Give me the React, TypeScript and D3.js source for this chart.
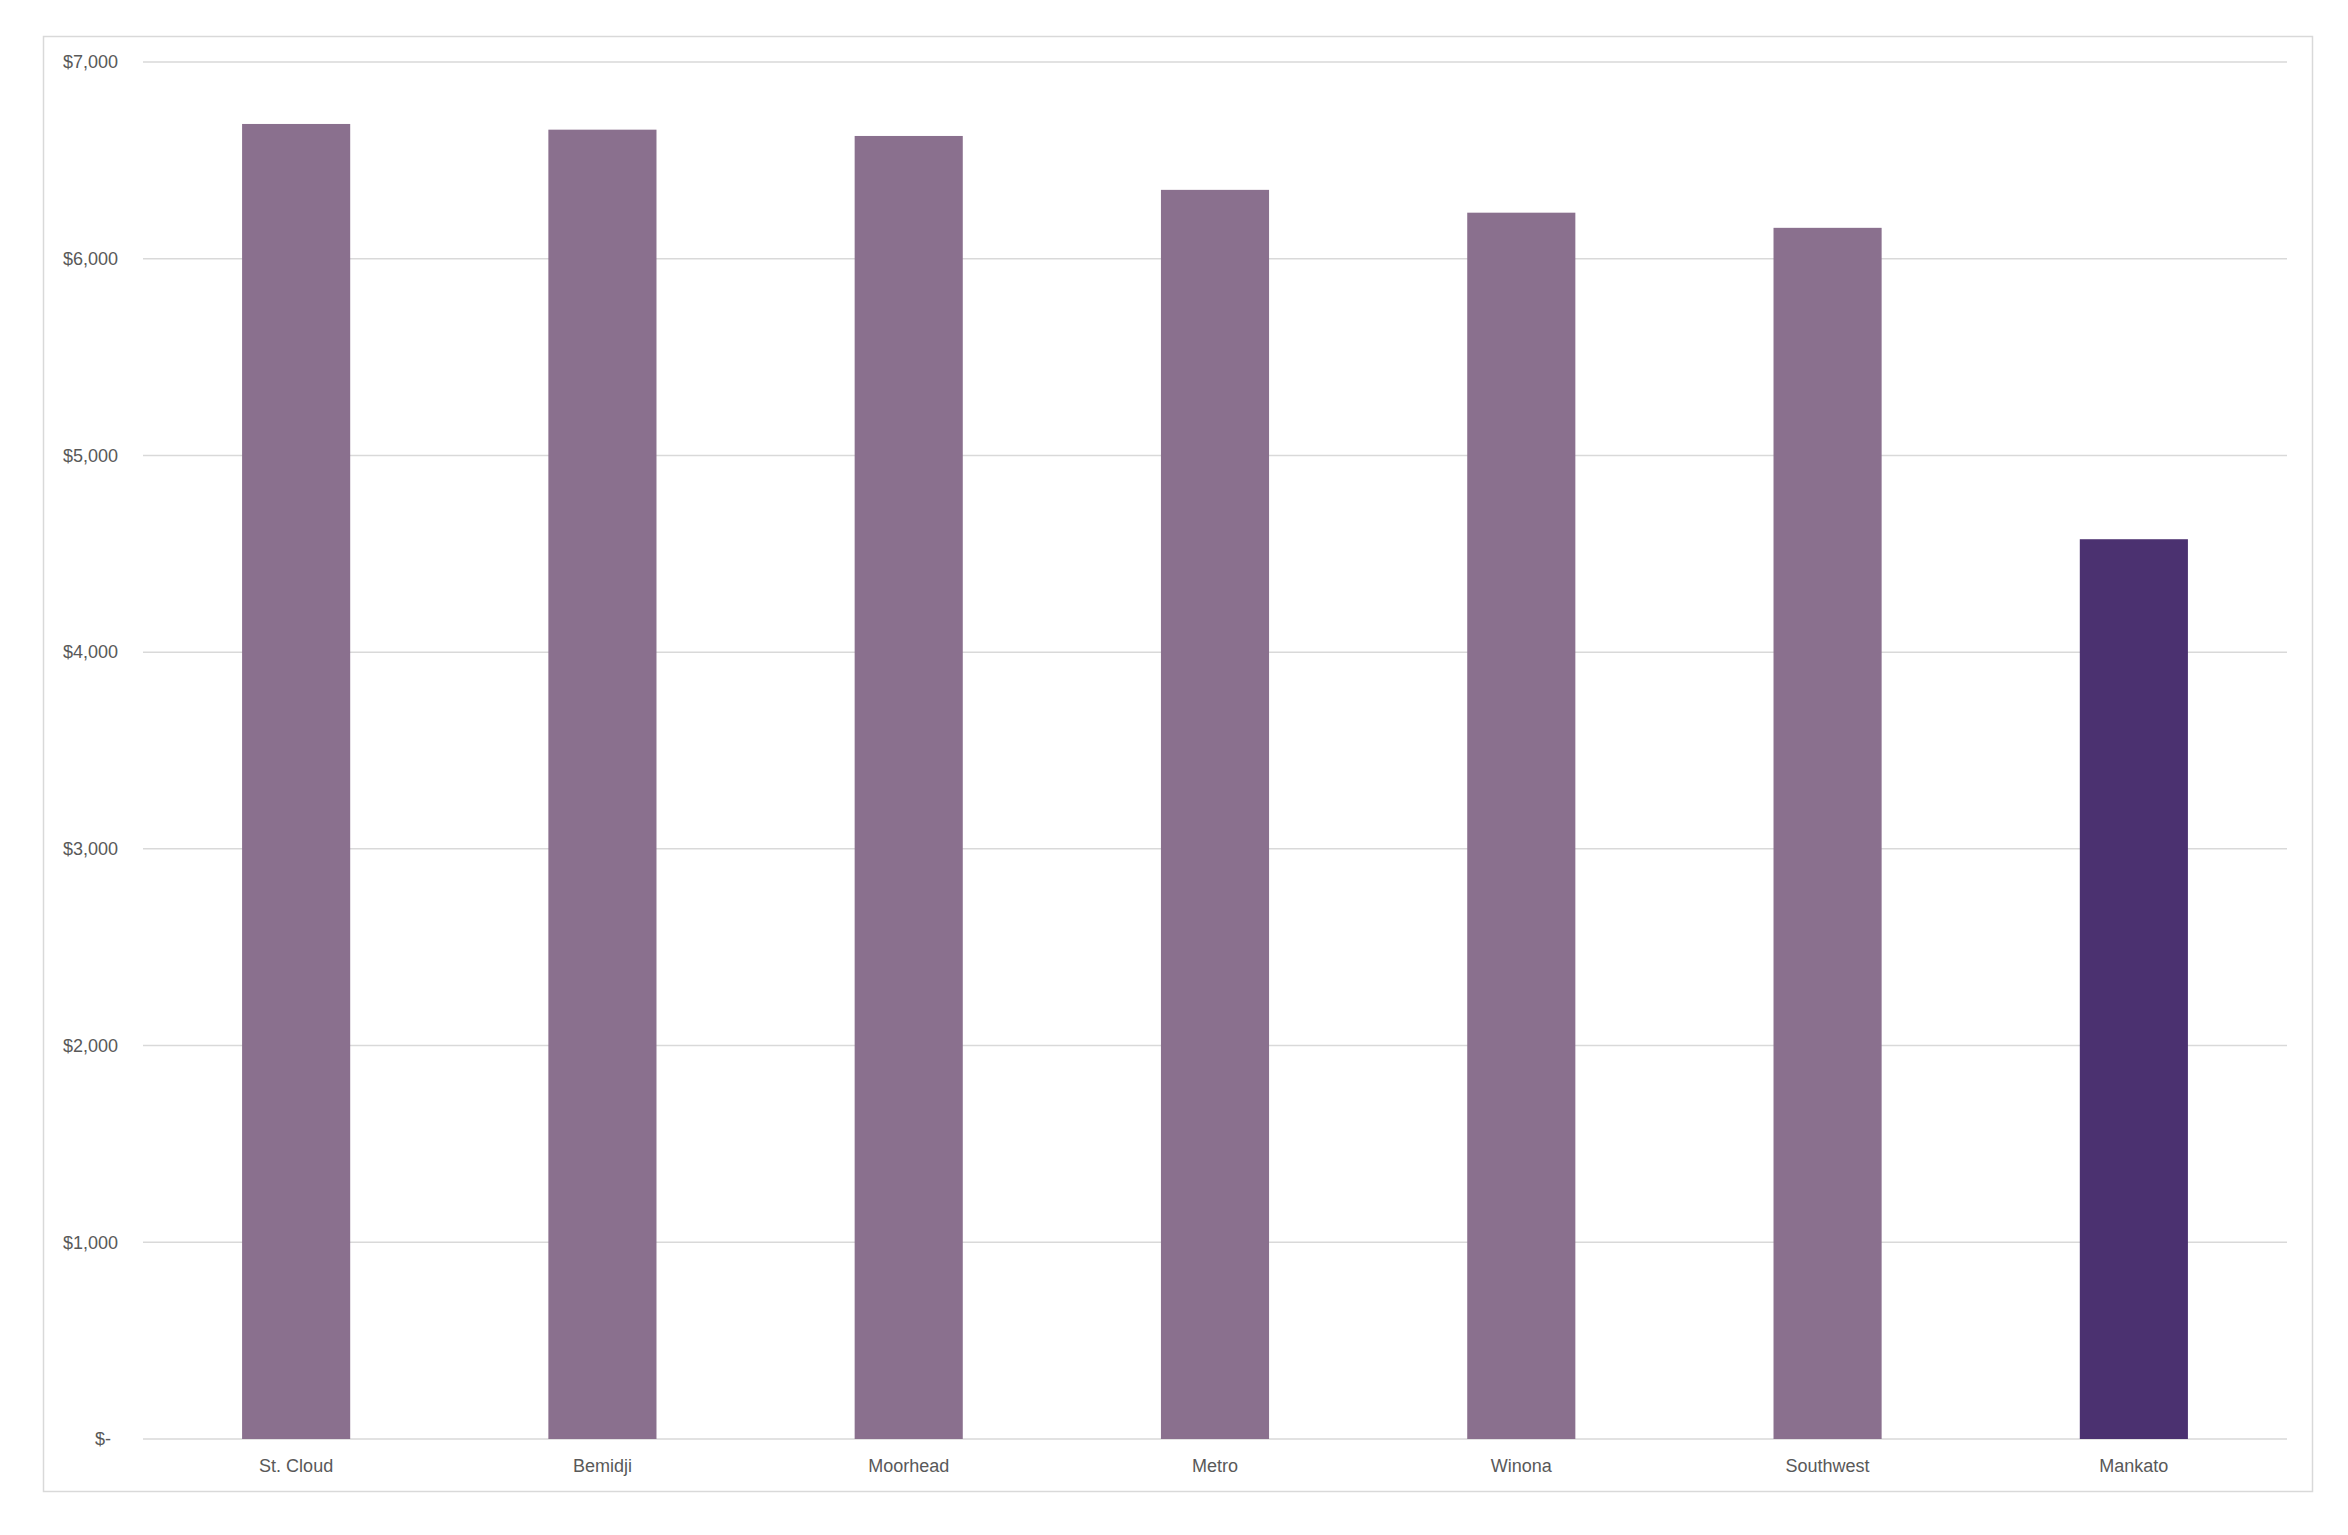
import React from "react";
import * as d3 from "d3";

const categories = ["St. Cloud", "Bemidji", "Moorhead", "Metro", "Winona", "Southwest", "Mankato"];
const values = [6685, 6656, 6624, 6350, 6234, 6157, 4574];
const highlight = ["Mankato"];
const yTicks = [0, 1000, 2000, 3000, 4000, 5000, 6000, 7000];

const W = 2348;
const H = 1535;
const plot = { left: 143, right: 2287, top: 62, bottom: 1439 };

const fmt = (v: number) => (v === 0 ? "$-" : "$" + d3.format(",")(v));

export default function App() {
  const x = d3
    .scaleBand<string>()
    .domain(categories)
    .range([plot.left, plot.right])
    .paddingInner(0.647)
    .paddingOuter(0.3235);
  const y = d3.scaleLinear().domain([0, 7000]).range([plot.bottom, plot.top]);
  const font = "'Liberation Sans', Arial, sans-serif";

  return (
    <svg
      width={W}
      height={H}
      style={{ position: "absolute", left: 0, top: 0, background: "#fff" }}
    >
      <rect x={43.5} y={36.5} width={2269} height={1455} fill="#fff" stroke="#d9d9d9" strokeWidth={1.5} />
      {yTicks.map((t) => (
        <g key={t}>
          <line x1={plot.left} x2={plot.right} y1={y(t)} y2={y(t)} stroke="#d9d9d9" strokeWidth={1.5} />
          <text
            x={t === 0 ? 111 : 118}
            y={y(t)}
            dy="0.35em"
            textAnchor="end"
            fontFamily={font}
            fontSize={18}
            fill="#595959"
          >
            {fmt(t)}
          </text>
        </g>
      ))}
      {categories.map((c, i) => (
        <g key={c}>
          <rect
            x={x(c)}
            y={y(values[i])}
            width={x.bandwidth()}
            height={y(0) - y(values[i])}
            fill={highlight.includes(c) ? "#4b3170" : "#8a708e"}
          />
          <text
            x={(x(c) as number) + x.bandwidth() / 2}
            y={1466}
            dy="0.35em"
            textAnchor="middle"
            fontFamily={font}
            fontSize={18}
            fill="#595959"
          >
            {c}
          </text>
        </g>
      ))}
    </svg>
  );
}
